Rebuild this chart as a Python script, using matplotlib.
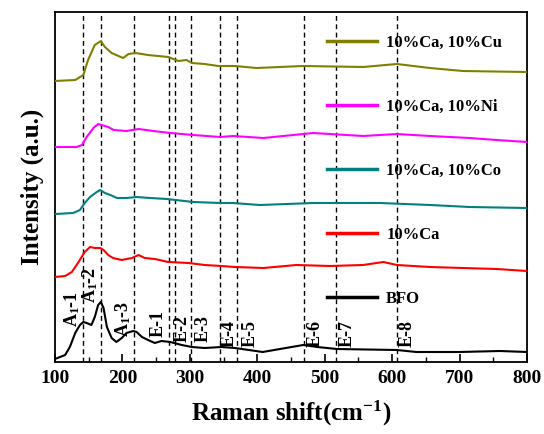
import matplotlib
matplotlib.use("Agg")
import matplotlib.pyplot as plt
from matplotlib.ticker import MultipleLocator

plt.rcParams['font.family'] = ['Liberation Serif', 'DejaVu Serif']
plt.rcParams['font.weight'] = 'bold'
plt.rcParams['mathtext.fontset'] = 'custom'
plt.rcParams['mathtext.rm'] = 'Liberation Serif:bold'
plt.rcParams['mathtext.it'] = 'Liberation Serif:italic:bold'
plt.rcParams['mathtext.bf'] = 'Liberation Serif:bold'

# ---- data (Raman shift, offset intensity in arbitrary units) ----
bfo_x = [100, 115, 122, 130, 137, 142, 147, 154, 159, 164, 168, 172, 177, 184, 191,
         199, 206, 216, 221, 229, 238, 248, 258, 271, 288, 303, 322, 347, 367,
         408, 468, 489, 518, 607, 636, 700, 760, 800]
bfo_y = [3, 7, 15, 29, 37, 40, 39, 37, 45, 57, 60, 54, 35, 24, 20,
         24, 29, 31, 30, 25, 22, 19, 21, 20, 17, 15, 14, 15, 14,
         10, 17, 15, 13, 12, 10, 10, 11, 10]

ca_x = [100, 115, 125, 135, 144, 152, 159, 167, 172, 179, 186, 199, 214, 224, 233,
        248, 268, 298, 322, 347, 367, 409, 458, 508, 557, 587, 607, 656, 705, 755, 800]
ca_y = [85, 86, 90, 100, 110, 115, 114, 114, 112, 107, 104, 102, 104, 107, 104,
        103, 100, 99, 97, 96, 95, 94, 97, 96, 97, 100, 97, 95, 94, 93, 91]

co_x = [100, 127, 137, 144, 152, 162, 167, 174, 182, 192, 206, 221, 241, 266, 305,
        345, 364, 404, 483, 582, 656, 715, 800]
co_y = [148, 149, 152, 159, 165, 170, 172, 169, 167, 164, 164, 165, 164, 163, 160,
        159, 159, 157, 159, 159, 157, 155, 154]

ni_x = [100, 132, 140, 147, 157, 164, 169, 179, 187, 206, 224, 246, 271, 305, 345,
        364, 409, 483, 557, 607, 656, 715, 755, 800]
ni_y = [215, 215, 217, 225, 234, 238, 237, 235, 232, 231, 233, 231, 229, 227, 225,
        226, 224, 229, 226, 228, 226, 224, 222, 220]

cu_x = [100, 130, 142, 149, 159, 168, 174, 184, 201, 209, 219, 238, 268, 283, 295,
        303, 322, 342, 367, 399, 468, 557, 607, 656, 705, 800]
cu_y = [281, 282, 287, 302, 317, 321, 315, 309, 304, 308, 309, 307, 305, 301, 302,
        299, 298, 296, 296, 294, 296, 295, 298, 294, 291, 290]

series = [
    ("10%Ca, 10%Cu", cu_x, cu_y, "#808000"),
    ("10%Ca, 10%Ni", ni_x, ni_y, "#FF00FF"),
    ("10%Ca, 10%Co", co_x, co_y, "#008080"),
    ("10%Ca", ca_x, ca_y, "#FF0000"),
    ("BFO", bfo_x, bfo_y, "#000000"),
]

mode_pos = [141, 168, 217, 269, 278, 302, 345, 370, 469, 517, 607]

mode_labels = ["A$_1$-1", "A$_1$-2", "A$_1$-3", "E-1", "E-2", "E-3",
               "E-4", "E-5", "E-6", "E-7", "E-8"]
label_x = [125, 152, 201, 253, 288, 320, 358, 389, 486, 533, 622]
label_y = [35, 59, 25, 25, 20, 20, 15, 15, 15, 15, 15]

# ---- figure ----
fig = plt.figure(figsize=(5.44, 4.34), dpi=100)
ax = fig.add_axes([55/544, 72/434, 472/544, 350/434])

for xv in mode_pos:
    ax.axvline(xv, color='black', lw=1.0, ls=(0, (3.5, 2.5)), zorder=1)

for name, xs, ys, c in series:
    ax.plot(xs, ys, color=c, lw=1.5, label=name, zorder=3)

for lab, lx, ly in zip(mode_labels, label_x, label_y):
    ax.text(lx, ly, lab, rotation=90, ha='center', va='bottom',
            fontsize=13, fontweight='bold', zorder=4)

ax.set_xlim(100, 800)
ax.set_ylim(0, 350)
ax.xaxis.set_major_locator(MultipleLocator(100))
ax.xaxis.set_minor_locator(MultipleLocator(50))
ax.tick_params(axis='x', which='major', direction='in', length=6, width=1.2,
               labelsize=14, pad=6, top=False)
ax.tick_params(axis='x', which='minor', direction='in', length=3.5, width=1.0, top=False)
ax.set_yticks([])
for sp in ax.spines.values():
    sp.set_linewidth(1.3)

ax.set_xlabel("Raman shift(cm$^{-1}$)", fontsize=18, fontweight='bold', labelpad=8)
ax.set_ylabel("Intensity (a.u.)", fontsize=18, fontweight='bold', labelpad=8)

leg = ax.legend(loc='upper left', bbox_to_anchor=((327-55)/472, (362-35)/350),
                frameon=False, fontsize=12, handlelength=3.0, handletextpad=0.55,
                labelspacing=2.88, borderpad=0, borderaxespad=0)
for h in leg.get_lines():
    h.set_linewidth(2.5)

fig.savefig("out.png", dpi=100)
